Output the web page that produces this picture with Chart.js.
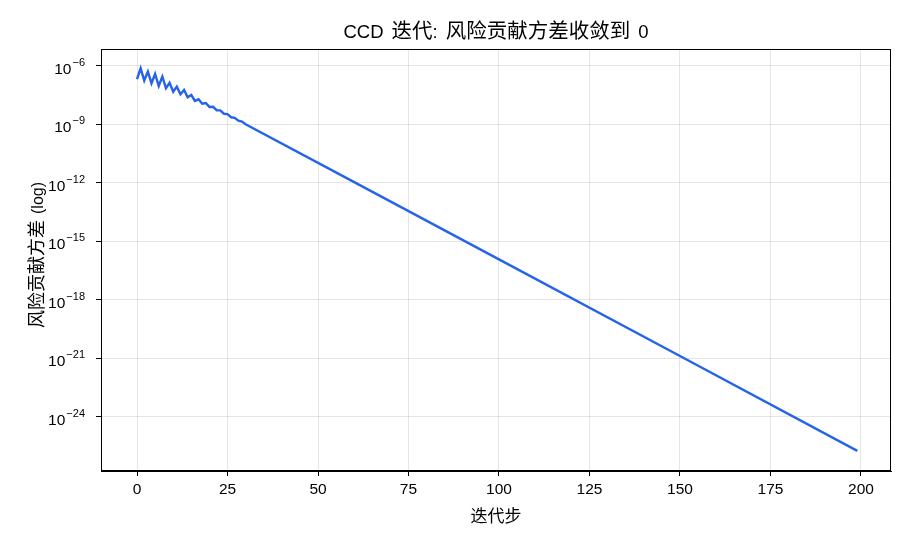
<!DOCTYPE html>
<html>
<head>
<meta charset="utf-8">
<script src="https://cdn.jsdelivr.net/npm/chart.js@4"></script>
<style>
  html, body { margin: 0; padding: 0; background: #fff; }
  #wrap { width: 910px; height: 546px; }
</style>
</head>
<body>
<div id="wrap"><canvas id="myLineChart" width="910" height="546"></canvas></div>
<script>
// iteration steps (dense where the curve wiggles)
const steps = [0, 1, 2, 3, 4, 5, 6, 7, 8, 9, 10, 11, 12, 13, 14, 15, 16, 17, 18, 19,
    20, 21, 22, 23, 24, 25, 26, 27, 28, 29, 30, 60, 100, 150, 199];
// variance of risk contributions at each step
const riskVar = [2.09e-7, 7.59e-7, 1.78e-7, 5.13e-7, 1.29e-7, 3.89e-7, 9.33e-8, 2.82e-7,
    7.24e-8, 1.38e-7, 4.79e-8, 8.71e-8, 3.55e-8, 5.89e-8, 2.45e-8, 3.24e-8, 1.62e-8,
    1.95e-8, 1.15e-8, 1.26e-8, 7.94e-9, 8.13e-9, 5.37e-9, 5.25e-9, 3.55e-9, 3.39e-9,
    2.34e-9, 2.19e-9, 1.55e-9, 1.41e-9, 1.02e-9, 1.10e-12, 1.20e-16, 1.35e-21, 1.82e-26];

const xTicks = [0, 25, 50, 75, 100, 125, 150, 175, 200];
const yTicks = [1e-6, 1e-9, 1e-12, 1e-15, 1e-18, 1e-21, 1e-24];
const yTickExp = ['−6', '−9', '−12', '−15', '−18', '−21', '−24'];

const titleText = 'CCD 迭代: 风险贡献方差收敛到 0';
const xTitle = '迭代步';
const yTitle = '风险贡献方差 (log)';

const LATIN = '"Liberation Sans", Arial, sans-serif';
const CJK = '"Noto Sans CJK SC", sans-serif';
const ctx = document.getElementById('myLineChart').getContext('2d');

// split text into latin / cjk / space runs so each gets its own font
function splitRuns(text) {
    const out = [];
    for (const ch of text) {
        const kind = ch === ' ' ? 'sp' : (/[\u3000-\u9fff\uff00-\uffef]/.test(ch) ? 'cjk' : 'lat');
        const last = out[out.length - 1];
        if (last && last.kind === kind) last.s += ch;
        else out.push({ kind, s: ch });
    }
    return out;
}

function drawMixed(c, text, x, y, o) {
    const runs = splitRuns(text);
    let total = 0;
    runs.forEach((r) => {
        if (r.kind === 'sp') r.w = o.space * r.s.length;
        else {
            c.font = r.kind === 'cjk' ? `${o.cjk}px ${CJK}` : `${o.latin}px ${LATIN}`;
            r.w = c.measureText(r.s).width;
        }
        total += r.w;
    });
    let cx = x - total / 2;
    c.textAlign = 'left';
    c.textBaseline = 'alphabetic';
    runs.forEach((r) => {
        if (r.kind !== 'sp') {
            c.font = r.kind === 'cjk' ? `${o.cjk}px ${CJK}` : `${o.latin}px ${LATIN}`;
            c.fillText(r.s, cx, y);
        }
        cx += r.w;
    });
}

// frame, title, axis titles and the 10^n tick labels
const decorate = {
    id: 'decorate',
    afterDraw(chart) {
        const a = chart.chartArea;
        const c = chart.ctx;
        c.save();
        c.strokeStyle = '#000';
        c.lineWidth = 1;
        c.strokeRect(a.left + 0.5, a.top + 0.5, a.right - a.left - 1, a.bottom - a.top - 1);

        c.fillStyle = '#000';
        drawMixed(c, titleText, (a.left + a.right) / 2, 38, { latin: 18.5, cjk: 20.5, space: 8 });
        drawMixed(c, xTitle, (a.left + a.right) / 2, 522, { latin: 15, cjk: 17, space: 5 });

        c.save();
        c.translate(43, 255);
        c.rotate(-Math.PI / 2);
        drawMixed(c, yTitle, 0, 0, { latin: 16, cjk: 18, space: 6 });
        c.restore();

        const ys = chart.scales.y;
        c.textBaseline = 'alphabetic';
        c.textAlign = 'right';
        yTicks.forEach((v, i) => {
            const py = ys.getPixelForValue(v);
            c.font = `11px ${LATIN}`;
            const ew = c.measureText(yTickExp[i]).width;
            c.fillText(yTickExp[i], 85, py);
            c.font = `15.5px ${LATIN}`;
            c.fillText('10', 85 - ew - 1, py + 8);
        });
        c.restore();
    }
};

const points = steps.map((s, i) => ({ x: s, y: riskVar[i] }));

new Chart(ctx, {
    type: 'line',
    data: {
        datasets: [{
            data: points,
            borderColor: '#2563eb',
            borderWidth: 2.4,
            pointRadius: 0,
            tension: 0,
            fill: false,
        }],
    },
    options: {
        responsive: false,
        animation: false,
        layout: { padding: { left: 0, right: 19, top: 49, bottom: 0 } },
        plugins: {
            legend: { display: false },
            tooltip: { enabled: false },
            title: { display: false },
        },
        scales: {
            x: {
                type: 'linear',
                min: -9.95,
                max: 208.3,
                afterFit(scale) { scale.height = 75; },
                afterBuildTicks(scale) { scale.ticks = xTicks.map((v) => ({ value: v })); },
                grid: { color: 'rgba(0,0,0,0.1)', tickColor: '#000', tickLength: 5 },
                border: { color: '#000', width: 1 },
                ticks: {
                    color: '#000',
                    font: { family: LATIN, size: 15.5 },
                    padding: 4,
                    maxRotation: 0,
                    callback: (v) => String(v),
                },
            },
            y: {
                type: 'logarithmic',
                min: 1.7e-27,
                max: 7.4e-6,
                afterFit(scale) { scale.width = 101; },
                afterBuildTicks(scale) { scale.ticks = yTicks.map((v) => ({ value: v })); },
                grid: { color: 'rgba(0,0,0,0.1)', tickColor: '#000', tickLength: 5 },
                border: { color: '#000', width: 1 },
                ticks: { callback: () => '' },
            },
        },
    },
    plugins: [decorate],
});
</script>
</body>
</html>
